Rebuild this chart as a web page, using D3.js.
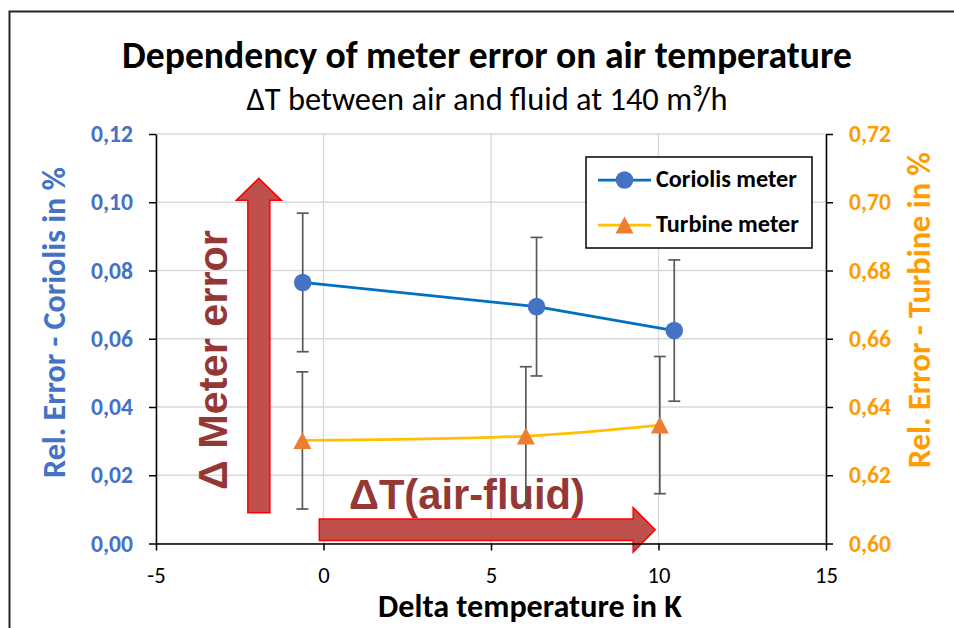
<!DOCTYPE html>
<html>
<head>
<meta charset="utf-8">
<script src="https://cdn.jsdelivr.net/npm/d3@7"></script>
<style>
  body { margin: 0; background: #fff; }
  svg { display: block; }
</style>
</head>
<body>
<div id="chart"></div>
<script>
// data
const xTicks = [-5, 0, 5, 10, 15]
const leftTicks = [0, 0.02, 0.04, 0.06, 0.08, 0.10, 0.12]
const rightTicks = [0.60, 0.62, 0.64, 0.66, 0.68, 0.70, 0.72]

const coriolisX = [-0.62, 6.36, 10.47]
const coriolisY = [0.0765, 0.0694, 0.0624]
const coriolisErr = [0.0203, 0.0203, 0.0207]

const turbineX = [-0.63, 6.04, 10.04]
const turbineY = [0.6302, 0.6315, 0.6347]
const turbineErr = [0.0201, 0.0203, 0.0201]

const seriesNames = ["Coriolis meter", "Turbine meter"]

const W = 954, H = 628
const MARGIN = {left: 156, right: 128, top: 134, bottom: 84.5}
const FONT = "Calibri, Carlito, Lato, sans-serif"
const ARIAL = "Arial, 'Liberation Sans', sans-serif"
const BLUE = "#4472c4", ORANGE = "#ff9d00", DARKRED = "#953735"

let svg = d3.select("#chart").append("svg").attr("width", W).attr("height", H)

svg.append("rect").attr("width", W).attr("height", H).attr("fill", "#fff")
// outer chart border (only top and left are visible in the crop)
svg.append("rect")
  .attr("x", 9.5).attr("y", 11.5).attr("width", W + 20).attr("height", H + 20)
  .attr("fill", "none").attr("stroke", "#262626").attr("stroke-width", 2)

let x = d3.scaleLinear([-5, 15], [MARGIN.left, W - MARGIN.right])
let yL = d3.scaleLinear([0, 0.12], [H - MARGIN.bottom, MARGIN.top])
let yR = d3.scaleLinear([0.60, 0.72], [H - MARGIN.bottom, MARGIN.top])

const comma = d => d3.format(".2f")(d).replace(".", ",")

function fit(text, width) {
  let len = text.node().getComputedTextLength()
  let fs = parseFloat(text.style("font-size"))
  text.style("font-size", (fs * width / len) + "px")
  return text
}

// grid
let grid = svg.append("g").attr("stroke", "#d9d9d9").attr("stroke-width", 1.3)
grid.selectAll(".h").data(leftTicks).join("line")
  .attr("x1", x(-5)).attr("x2", x(15))
  .attr("y1", d => yL(d)).attr("y2", d => yL(d))
grid.selectAll(".v").data(xTicks).join("line")
  .attr("y1", yL(0)).attr("y2", yL(0.12))
  .attr("x1", d => x(d)).attr("x2", d => x(d))

// annotations (in data units)
const vArrow = {x: -1.93, y0: 0.0090, y1: 0.1070, shaft: 22, head: 45, headLen: 22}
const hArrow = {x0: -0.125, x1: 9.9, y: 0.0040, shaft: 21.5, head: 44.5, headLen: 22}

function arrowUp(a) {
  let cx = x(a.x), b = yL(a.y0), t = yL(a.y1), hb = t + a.headLen
  return `M${cx - a.shaft / 2},${b}L${cx - a.shaft / 2},${hb}L${cx - a.head / 2},${hb}L${cx},${t}` +
    `L${cx + a.head / 2},${hb}L${cx + a.shaft / 2},${hb}L${cx + a.shaft / 2},${b}Z`
}
function arrowRight(a) {
  let cy = yL(a.y), l = x(a.x0), t = x(a.x1), hb = t - a.headLen
  return `M${l},${cy - a.shaft / 2}L${hb},${cy - a.shaft / 2}L${hb},${cy - a.head / 2}L${t},${cy}` +
    `L${hb},${cy + a.head / 2}L${hb},${cy + a.shaft / 2}L${l},${cy + a.shaft / 2}Z`
}

let ann = svg.append("g")
ann.append("path").attr("d", arrowUp(vArrow))
  .attr("fill", "#c0504d").attr("stroke", "#ff0000").attr("stroke-width", 1.5)
ann.append("path").attr("d", arrowRight(hArrow))
  .attr("fill", "#c0504d").attr("stroke", "#ff0000").attr("stroke-width", 1.5)

let vText = ann.append("text")
  .attr("transform", `translate(${x(-2.89)},${yL(0.0157)}) rotate(-90)`)
  .attr("fill", DARKRED).style("font-family", ARIAL).style("font-weight", "bold")
  .style("font-size", "40px").text("\u0394 Meter error")
fit(vText, 260)

let hText = ann.append("text")
  .attr("x", x(0.76)).attr("y", yL(0.0100))
  .attr("fill", DARKRED).style("font-family", ARIAL).style("font-weight", "bold")
  .style("font-size", "40px").text("\u0394T(air-fluid)")
fit(hText, 236)

// axes
let axL = svg.append("g").attr("transform", `translate(${MARGIN.left},0)`)
  .call(d3.axisLeft(yL).tickValues(leftTicks).tickSize(7).tickSizeOuter(0).tickPadding(16).tickFormat(comma))
axL.selectAll("text").attr("fill", BLUE)
  .style("font-family", FONT).style("font-weight", "bold").style("font-size", "21px")
axL.selectAll("text").each(function() { fit(d3.select(this), 42) })

let axR = svg.append("g").attr("transform", `translate(${W - MARGIN.right},0)`)
  .call(d3.axisRight(yR).tickValues(rightTicks).tickSize(7).tickSizeOuter(0).tickPadding(16).tickFormat(comma))
axR.selectAll("text").attr("fill", ORANGE)
  .style("font-family", FONT).style("font-weight", "bold").style("font-size", "21px")
axR.selectAll("text").each(function() { fit(d3.select(this), 42) })

let axB = svg.append("g").attr("transform", `translate(0,${H - MARGIN.bottom})`)
  .call(d3.axisBottom(x).tickValues(xTicks).tickSize(7).tickSizeOuter(0).tickPadding(16).tickFormat(d => String(d)))
let bLabels = axB.selectAll("text").attr("fill", "#000")
  .style("font-family", FONT).style("font-size", "21px")
// size the labels so that "10" is as wide as in the picture
let ten = bLabels.filter(d => d == 10)
let tenLen = ten.node().getComputedTextLength()
bLabels.style("font-size", (21 * 23 / tenLen) + "px")

for (let ax of [axL, axR, axB]) {
  ax.selectAll("path.domain, line").attr("stroke", "#000").attr("stroke-width", 1.5)
}

// error bars
function errorBars(xs, ys, es, y) {
  let g = svg.append("g").attr("stroke", "#595959").attr("stroke-width", 1.7)
  xs.forEach((d, i) => {
    let px = x(d), lo = y(ys[i] - es[i]), hi = y(ys[i] + es[i])
    g.append("line").attr("x1", px).attr("x2", px).attr("y1", lo).attr("y2", hi)
    g.append("line").attr("x1", px - 6).attr("x2", px + 6).attr("y1", lo).attr("y2", lo)
    g.append("line").attr("x1", px - 6).attr("x2", px + 6).attr("y1", hi).attr("y2", hi)
  })
}
errorBars(turbineX, turbineY, turbineErr, yR)
errorBars(coriolisX, coriolisY, coriolisErr, yL)

// lines
let coriolisPts = coriolisX.map((d, i) => [x(d), yL(coriolisY[i])])
let turbinePts = turbineX.map((d, i) => [x(d), yR(turbineY[i])])

svg.append("path").attr("d", d3.line().curve(d3.curveCatmullRom)(turbinePts))
  .attr("fill", "none").attr("stroke", "#ffc000").attr("stroke-width", 2.75)
svg.append("path").attr("d", d3.line()(coriolisPts))
  .attr("fill", "none").attr("stroke", "#0070c0").attr("stroke-width", 2.75)

const TRI = "M0,-8.5L9,8.5L-9,8.5Z"
svg.append("g").selectAll("path").data(turbinePts).join("path")
  .attr("transform", d => `translate(${d[0]},${d[1]})`).attr("d", TRI).attr("fill", "#ed7d31")
svg.append("g").selectAll("circle").data(coriolisPts).join("circle")
  .attr("cx", d => d[0]).attr("cy", d => d[1]).attr("r", 8.8).attr("fill", BLUE)

// legend
let lg = svg.append("g").attr("transform", "translate(586,157)")
lg.append("rect").attr("width", 226).attr("height", 91)
  .attr("fill", "#fff").attr("stroke", "#000").attr("stroke-width", 1.5)
const legendRows = [
  {name: seriesNames[0], line: "#0070c0", y: 23, marker: "circle", width: 141},
  {name: seriesNames[1], line: "#ffc000", y: 68, marker: "tri", width: 143}
]
legendRows.forEach(r => {
  lg.append("line").attr("x1", 12).attr("x2", 65).attr("y1", r.y).attr("y2", r.y)
    .attr("stroke", r.line).attr("stroke-width", 2.75)
  if (r.marker == "circle") {
    lg.append("circle").attr("cx", 38.5).attr("cy", r.y).attr("r", 8.8).attr("fill", BLUE)
  } else {
    lg.append("path").attr("transform", `translate(38.5,${r.y})`).attr("d", TRI).attr("fill", "#ed7d31")
  }
  let t = lg.append("text").attr("x", 70).attr("y", r.y + 6.5).text(r.name)
    .style("font-family", FONT).style("font-weight", "bold").style("font-size", "18px").attr("fill", "#000")
  fit(t, r.width)
})

// titles
let title = svg.append("text").attr("x", 487).attr("y", 68).attr("text-anchor", "middle")
  .style("font-family", FONT).style("font-weight", "bold").style("font-size", "30px")
  .text("Dependency of meter error on air temperature")
fit(title, 730)

let sub = svg.append("text").attr("x", 487).attr("y", 110).attr("text-anchor", "middle")
  .style("font-family", FONT).style("font-size", "24px")
  .text("\u0394T between air and fluid at 140 m\u00b3/h")
fit(sub, 481)

let xTitle = svg.append("text").attr("x", 530).attr("y", 617).attr("text-anchor", "middle")
  .style("font-family", FONT).style("font-weight", "bold").style("font-size", "26px")
  .text("Delta temperature in K")
fit(xTitle, 304)

let yLTitle = svg.append("text").attr("transform", "translate(65,322.5) rotate(-90)")
  .attr("text-anchor", "middle").attr("fill", BLUE)
  .style("font-family", FONT).style("font-weight", "bold").style("font-size", "22px")
  .text("Rel. Error - Coriolis in %")
fit(yLTitle, 311)

let yRTitle = svg.append("text").attr("transform", "translate(930,310) rotate(-90)")
  .attr("text-anchor", "middle").attr("fill", ORANGE)
  .style("font-family", FONT).style("font-weight", "bold").style("font-size", "22px")
  .text("Rel. Error - Turbine in %")
fit(yRTitle, 316)
</script>
</body>
</html>
